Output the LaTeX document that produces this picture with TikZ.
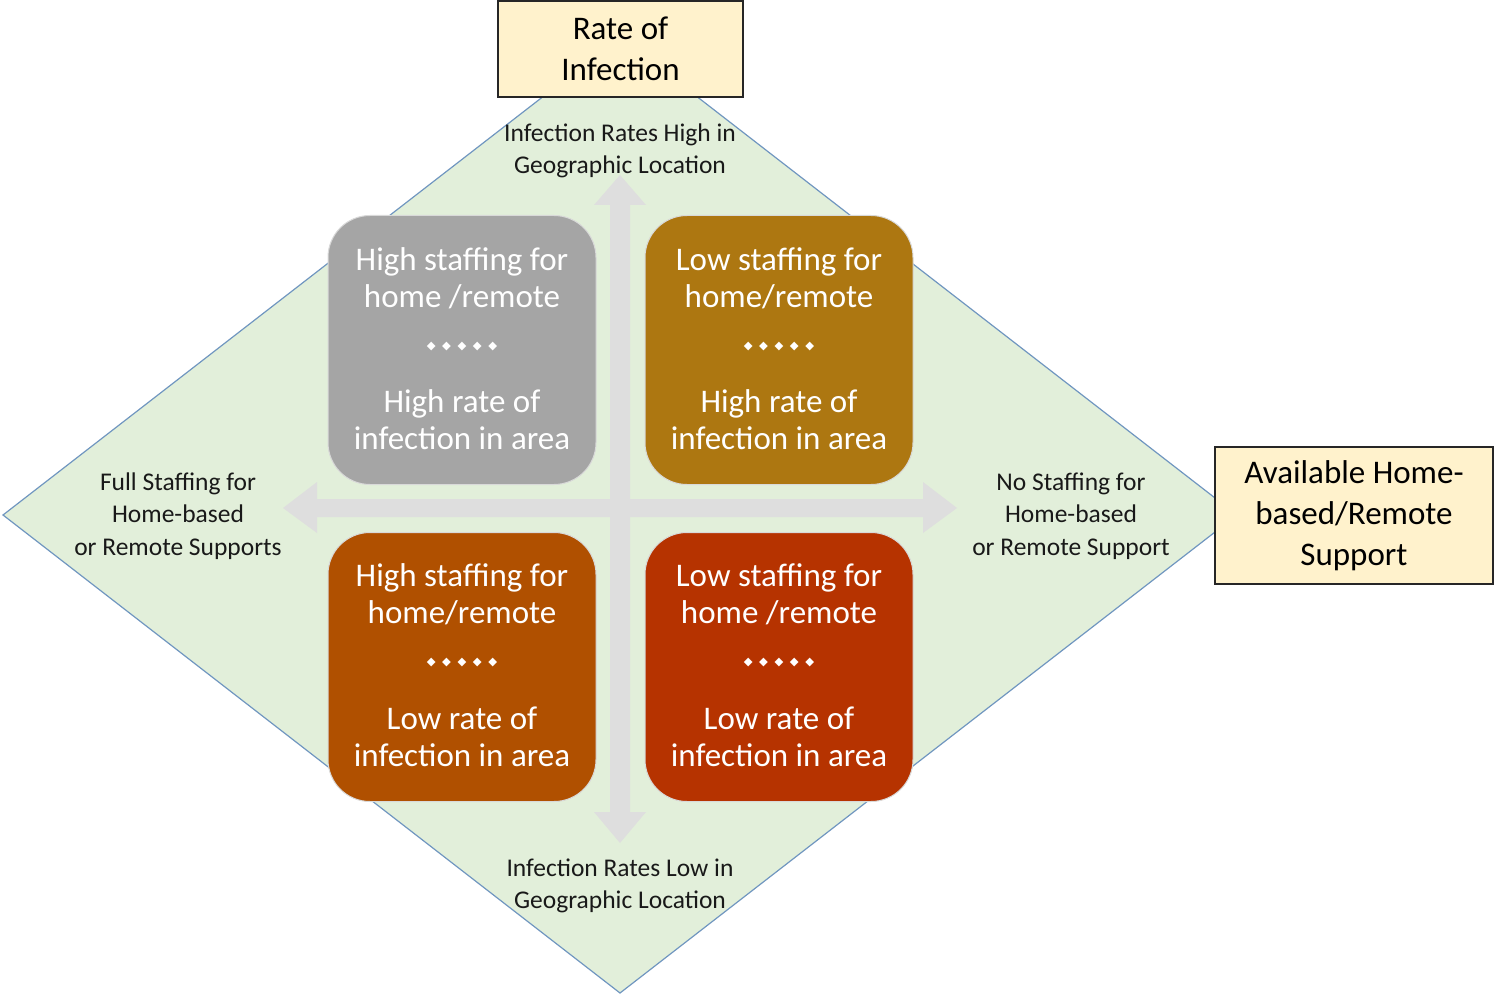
\documentclass[tikz,border=0pt]{standalone}
\usepackage{fontspec}
\setmainfont{Carlito}
\newfontfamily\symfont{DejaVu Sans}
\usetikzlibrary{positioning}

\definecolor{diamondfill}{HTML}{E2EFDA}
\definecolor{diamondedge}{HTML}{7096C0}
\definecolor{arrowgray}{HTML}{DEDEDE}
\definecolor{keyfill}{HTML}{FFF2CC}
\definecolor{quadgray}{HTML}{A5A5A5}
\definecolor{quadgold}{HTML}{AD7711}
\definecolor{quadorange}{HTML}{B05000}
\definecolor{quadred}{HTML}{B63300}

\tikzset{
  quad/.style={rectangle, rounded corners=42pt, minimum width=268pt,
    minimum height=269pt, draw=white!85!black, line width=1pt, inner sep=0pt},
  quadtext/.style={text=white, align=center, font=\fontsize{33}{37}\selectfont},
  dots/.style={text=white, font=\symfont\fontsize{11.5}{12}\selectfont},
  axislabel/.style={text=black!90, align=center, font=\fontsize{25.5}{32.5}\selectfont},
  keybox/.style={rectangle, fill=keyfill, draw=black!85, line width=1.3pt,
    align=center, inner sep=0pt, font=\fontsize{33}{41}\selectfont},
}

\newcommand{\sepdots}{◆\hspace{6.5pt}◆\hspace{6.5pt}◆\hspace{6.5pt}◆\hspace{6.5pt}◆}

\begin{document}
\begin{tikzpicture}[x=1pt, y=-1pt]
\useasboundingbox (0,0) rectangle (1494,995);

% background diamond
\filldraw[fill=diamondfill, draw=diamondedge, line width=1.2pt]
  (620,37) -- (1237,515) -- (620,993) -- (3,515) -- cycle;

% axis arrows (double headed)
\fill[arrowgray] (620,175) -- (646,205) -- (630,205) -- (630,812) -- (646,812)
  -- (620,843) -- (594,812) -- (610,812) -- (610,205) -- (594,205) -- cycle;
\fill[arrowgray] (283,508) -- (317,482) -- (317,499) -- (923,499) -- (923,482)
  -- (957,508) -- (923,533) -- (923,517) -- (317,517) -- (317,533) -- cycle;

% quadrants
\node[quad, fill=quadgray]   (qtl) at (462,350) {};
\node[quad, fill=quadgold]   (qtr) at (779,350) {};
\node[quad, fill=quadorange] (qbl) at (462,667) {};
\node[quad, fill=quadred]    (qbr) at (779,667) {};

\node[quadtext] (qtlA) at (462,278) {High staffing for\\home /remote};
\node[dots]     (qtlD) at (462,347) {\sepdots};
\node[quadtext] (qtlB) at (462,420) {High rate of\\infection in area};

\node[quadtext] (qtrA) at (779,278) {Low staffing for\\home/remote};
\node[dots]     (qtrD) at (779,347) {\sepdots};
\node[quadtext] (qtrB) at (779,420) {High rate of\\infection in area};

\node[quadtext] (qblA) at (462,594) {High staffing for\\home/remote};
\node[dots]     (qblD) at (462,663) {\sepdots};
\node[quadtext] (qblB) at (462,737) {Low rate of\\infection in area};

\node[quadtext] (qbrA) at (779,594) {Low staffing for\\home /remote};
\node[dots]     (qbrD) at (779,663) {\sepdots};
\node[quadtext] (qbrB) at (779,737) {Low rate of\\infection in area};

% axis end labels
\node[axislabel] (hi)  at (620,151) {Infection Rates High in\\Geographic Location};
\node[axislabel] (lo)  at (620,886) {Infection Rates Low in\\Geographic Location};
\node[axislabel] (ful) at (178,516) {Full Staffing for\\Home-based\\or Remote Supports};
\node[axislabel] (non) at (1071,516) {No Staffing for\\Home-based\\or Remote Support};

% axis titles
\node[keybox, minimum width=245pt, minimum height=96pt] (rate) at (620.5,49)
  {Rate of\\Infection};
\node[keybox, minimum width=278pt, minimum height=137pt] (avail) at (1354,515.5)
  {Available Home-\\based/Remote\\Support};
\end{tikzpicture}
\end{document}
